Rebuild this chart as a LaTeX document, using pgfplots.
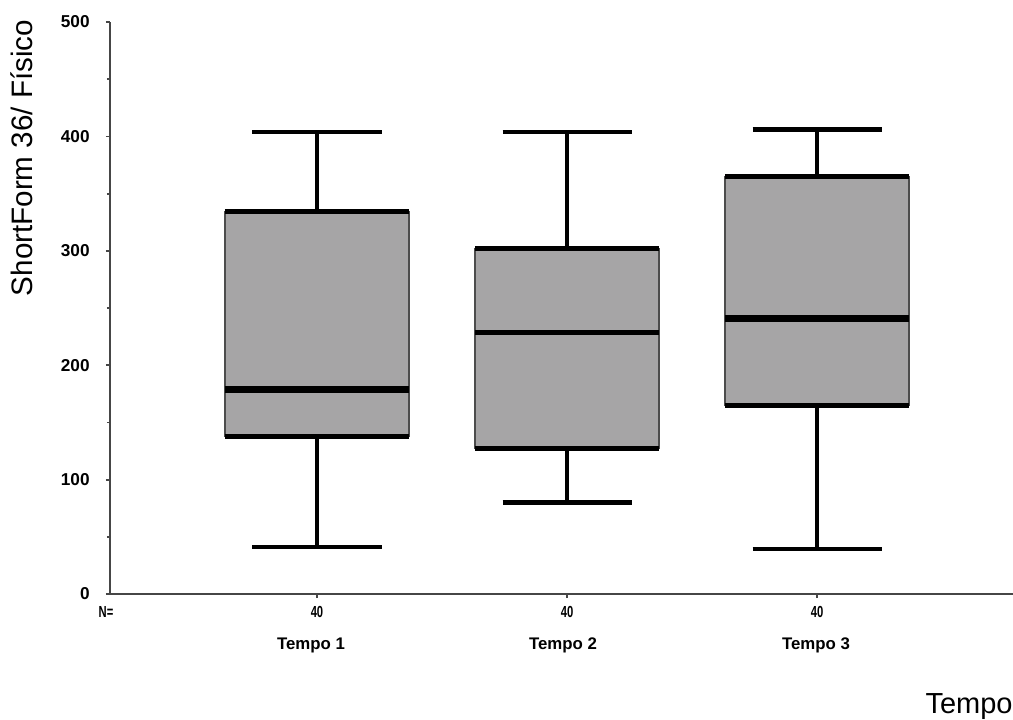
\documentclass[border=0pt]{standalone}
\usepackage{fontspec}
\setmainfont{Liberation Sans}
\usepackage{graphicx}
\usepackage{pgfplots}
\pgfplotsset{compat=1.18}
\definecolor{boxgray}{RGB}{166,165,166}
\definecolor{axgray}{RGB}{70,70,70}
\newcommand{\nlab}[1]{\scalebox{0.7}[1]{#1}}
\begin{document}
\begin{tikzpicture}
\begin{axis}[
  scale only axis, width=451.5pt, height=286pt,
  xmin=0.172, xmax=3.784, ymin=0, ymax=500,
  axis x line*=bottom, axis y line*=left,
  axis line style={line width=0.9pt, draw=axgray},
  xtick={1,2,3}, xticklabels={,,},
  ytick={0,100,200,300,400,500},
  minor y tick num=1,
  tick align=outside,
  major tick length=2pt, minor tick length=1.5pt,
  tick style={line width=0.9pt, draw=axgray},
  /pgf/number format/assume math mode=true,
  yticklabel style={font=\fontsize{8.6}{9}\selectfont\bfseries, anchor=east, inner sep=0pt, xshift=-8pt},
  clip=false,
  whisk/.style={black, line width=2.1pt, mark=none, forget plot},
  edge/.style={black, line width=2.5pt, mark=none, forget plot},
]
% boxes (Q1..Q3)
\addplot[fill=boxgray, draw=black!70, line width=0.7pt, forget plot] coordinates {(0.632,138) (1.368,138) (1.368,334) (0.632,334)} -- cycle;
\addplot[fill=boxgray, draw=black!70, line width=0.7pt, forget plot] coordinates {(1.632,127) (2.368,127) (2.368,302) (1.632,302)} -- cycle;
\addplot[fill=boxgray, draw=black!70, line width=0.7pt, forget plot] coordinates {(2.632,165) (3.368,165) (3.368,365) (2.632,365)} -- cycle;
% whiskers
\addplot[whisk] coordinates {(1,334) (1,404)};
\addplot[whisk] coordinates {(1,138) (1,41)};
\addplot[whisk] coordinates {(0.742,404) (1.258,404)};
\addplot[whisk] coordinates {(0.742,41) (1.258,41)};
\addplot[whisk] coordinates {(2,302) (2,404)};
\addplot[whisk] coordinates {(2,127) (2,80)};
\addplot[whisk] coordinates {(1.742,404) (2.258,404)};
\addplot[whisk] coordinates {(1.742,80) (2.258,80)};
\addplot[whisk] coordinates {(3,365) (3,406)};
\addplot[whisk] coordinates {(3,165) (3,39)};
\addplot[whisk] coordinates {(2.742,406) (3.258,406)};
\addplot[whisk] coordinates {(2.742,39) (3.258,39)};
% quartile edges
\addplot[edge] coordinates {(0.632,334) (1.368,334)};
\addplot[edge] coordinates {(0.632,138) (1.368,138)};
\addplot[edge] coordinates {(1.632,302) (2.368,302)};
\addplot[edge] coordinates {(1.632,127) (2.368,127)};
\addplot[edge] coordinates {(2.632,365) (3.368,365)};
\addplot[edge] coordinates {(2.632,165) (3.368,165)};
% medians
\addplot[black, line width=3.4pt, mark=none, forget plot] coordinates {(0.632,179) (1.368,179)};
\addplot[black, line width=2.5pt, mark=none, forget plot] coordinates {(1.632,229) (2.368,229)};
\addplot[black, line width=3.3pt, mark=none, forget plot] coordinates {(2.632,241) (3.368,241)};
\end{axis}
% N and category labels (axis SW corner is at the origin; category k at 103.5pt+125pt(k-1))
\node[font=\fontsize{8}{8}\selectfont\bfseries, inner sep=0pt] at (-2pt,-9pt) {\nlab{N=}};
\node[font=\fontsize{8}{8}\selectfont\bfseries, inner sep=0pt] at (103.5pt,-9pt) {\nlab{40}};
\node[font=\fontsize{8}{8}\selectfont\bfseries, inner sep=0pt] at (228.5pt,-9pt) {\nlab{40}};
\node[font=\fontsize{8}{8}\selectfont\bfseries, inner sep=0pt] at (353.5pt,-9pt) {\nlab{40}};
\node[font=\fontsize{8.4}{9}\selectfont\bfseries, inner sep=0pt] at (100.5pt,-25.5pt) {Tempo 1};
\node[font=\fontsize{8.4}{9}\selectfont\bfseries, inner sep=0pt] at (226.5pt,-25.5pt) {Tempo 2};
\node[font=\fontsize{8.4}{9}\selectfont\bfseries, inner sep=0pt] at (353pt,-25.5pt) {Tempo 3};
\node[rotate=90, anchor=base, font=\fontsize{14.8}{16}\selectfont, inner sep=0pt] at (-38.5pt,218pt) {ShortForm 36/ Físico};
\node[anchor=base east, font=\fontsize{14.5}{16}\selectfont, inner sep=0pt] at (451.5pt,-59.5pt) {Tempo};
\pgfresetboundingbox
\path (-55pt,-62.5pt) rectangle (451.5pt,297pt);
\end{tikzpicture}
\end{document}
